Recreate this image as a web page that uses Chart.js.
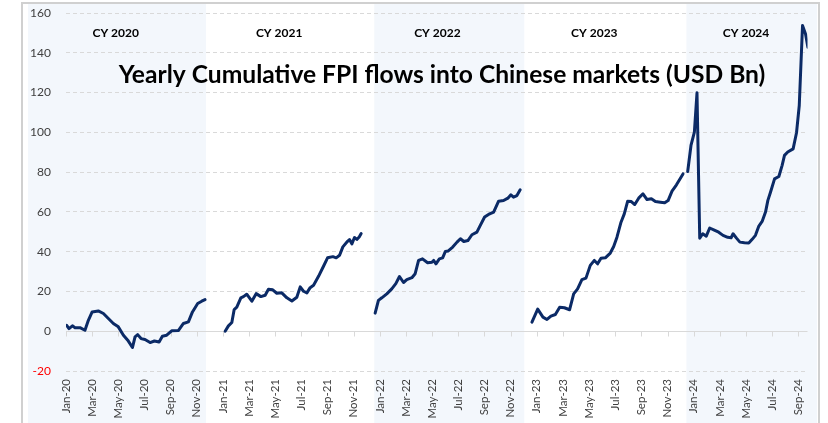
<!DOCTYPE html>
<html>
<head>
<meta charset="utf-8">
<script src="https://cdn.jsdelivr.net/npm/chart.js@4.4.1/dist/chart.umd.min.js"></script>
<style>
  html,body{margin:0;padding:0;background:#fff;overflow:hidden}
  #wrap{position:relative;width:828px;height:423px}
</style>
</head>
<body>
<div id="wrap"><canvas id="fpi"></canvas></div>
<script>
/* x values are months since Jan-20 (0 = Jan-20, 12 = Jan-21, ...) */
const monthNames = ['Jan','Feb','Mar','Apr','May','Jun','Jul','Aug','Sep','Oct','Nov','Dec'];

const cy2020X = [0.05,0.23,0.49,0.69,1.07,1.45,1.71,2.0,2.47,2.86,3.24,3.62,4.0,4.39,4.72,5.08,5.28,5.48,5.74,6.04,6.43,6.76,7.12,7.37,7.7,8.08,8.59,8.98,9.36,9.67,10.07,10.38,10.63];
const cy2020Y = [3.0,1.3,2.7,1.8,1.8,0.5,5.5,9.7,10.2,8.9,6.4,3.9,2.2,-2.0,-4.5,-8.2,-2.8,-1.7,-3.7,-4.2,-5.7,-4.9,-5.4,-2.5,-2.0,0.2,0.3,3.9,4.7,9.7,13.9,15.1,15.9];

const cy2021X = [12.17,12.42,12.68,12.86,13.06,13.37,13.57,13.82,14.21,14.54,14.9,15.23,15.48,15.81,16.12,16.5,16.89,17.27,17.65,17.91,18.16,18.42,18.67,18.93,19.31,19.7,20.0,20.41,20.66,20.92,21.17,21.53,21.68,21.86,22.06,22.24,22.42,22.57];
const cy2021Y = [0,2.7,4.4,10.9,12.1,16.8,17.4,18.6,15.1,18.9,17.4,18.1,21.1,20.8,19.1,19.3,16.8,15.2,17.1,22.3,20.1,19.3,21.9,23.1,27.6,32.8,36.9,37.5,36.9,38.2,42.4,45.2,46.1,43.9,47.1,46.2,47.4,49.1];

const cy2022X = [23.64,23.89,24.15,24.53,24.91,25.22,25.5,25.81,26.06,26.45,26.7,26.96,27.26,27.65,27.98,28.11,28.29,28.55,28.8,29.01,29.21,29.57,29.9,30.16,30.42,30.73,31.04,31.42,31.68,32.01,32.31,32.7,33.08,33.46,33.79,34.02,34.22,34.48,34.73];
const cy2022Y = [9.1,15.5,16.8,18.8,21.3,23.9,27.5,24.5,25.9,26.9,28.9,35.6,36.4,34.4,34.7,35.6,33.9,36.4,36.9,40.1,40.3,42.3,44.8,46.5,45.1,45.6,48.5,49.8,53.2,57.4,58.7,59.9,65.4,65.7,66.9,68.6,67.4,68.2,71.1];

const cy2023X = [35.63,36.07,36.47,36.78,37.08,37.42,37.75,38.11,38.51,38.82,39.12,39.45,39.76,40.09,40.4,40.65,40.91,41.24,41.62,41.88,42.13,42.44,42.69,42.95,43.23,43.49,43.79,44.12,44.43,44.76,45.07,45.45,45.78,46.04,46.34,46.68,47.18];
const cy2023Y = [4.6,11.1,7.1,5.9,7.6,8.4,12.1,11.8,10.8,18.8,21.3,25.9,26.7,33.1,35.6,33.9,36.7,36.9,39.3,42.6,47.3,54.8,59.0,65.4,65.2,63.7,66.9,69.1,66.2,66.6,65.2,64.9,64.6,65.7,70.4,73.6,79.1];

const cy2024X = [47.54,47.79,48.05,48.25,48.46,48.69,48.96,49.22,49.53,49.91,50.24,50.6,50.86,51.01,51.27,51.53,51.88,52.21,52.47,52.72,52.98,53.23,53.49,53.67,53.87,54.18,54.51,54.76,54.94,55.19,55.6,55.86,56.07,56.32,56.55,56.73];
const cy2024Y = [80.3,93.4,100.1,119.9,46.8,49.0,47.8,51.9,51.0,49.8,48.2,47.2,47.0,49.0,46.8,44.8,44.5,44.3,46.2,48.2,52.9,55.2,59.9,65.8,69.9,76.6,77.8,83.4,88.4,90.1,91.7,99.8,113.5,153.7,149.5,142.8];

/* calendar-year captions and the shaded years (null = runs to the frame edge) */
const yearLabels = ['CY 2020','CY 2021','CY 2022','CY 2023','CY 2024'];
const yearLabelX = [3.8,16.3,28.4,40.4,52.0];
const shadedYears = [[null,10.71],[23.57,35.04],[47.44,null]];

const TITLE = 'Yearly Cumulative FPI flows into Chinese markets (USD Bn)';
const INK = '#404040', LINE = '#0b2a66', BAND = '#f3f7fc', GRID = '#d9d9d9';
const FRAME = {left:28, top:4, right:817};
const FONT = 'Lato, "Open Sans", sans-serif';

const series = [[cy2020X,cy2020Y],[cy2021X,cy2021Y],[cy2022X,cy2022Y],[cy2023X,cy2023Y],[cy2024X,cy2024Y]];
const datasets = series.map(([xs,ys])=>({
  data: xs.map((x,i)=>({x, y: ys[i]})),
  borderColor: LINE, borderWidth: 3, pointRadius: 0, tension: 0,
  borderJoinStyle: 'round', borderCapStyle: 'round'
}));

// white page, year shading and outer frame, under everything
const backdrop = {id:'backdrop', beforeDraw(ch){
  const {ctx, scales:{x}} = ch;
  ctx.save();
  ctx.fillStyle = '#fff'; ctx.fillRect(0,0,ch.width,ch.height);
  ctx.fillStyle = BAND;
  shadedYears.forEach(([a,b])=>{
    const l = a===null ? FRAME.left : x.getPixelForValue(a);
    const r = b===null ? FRAME.right : x.getPixelForValue(b);
    ctx.fillRect(l, FRAME.top, r-l, ch.height-FRAME.top);
  });
  ctx.strokeStyle = '#d0d0d0'; ctx.lineWidth = 2;
  ctx.beginPath();
  ctx.moveTo(22, ch.height); ctx.lineTo(22, 3); ctx.lineTo(819, 3); ctx.lineTo(819, ch.height);
  ctx.stroke();
  ctx.restore();
}};

// solid zero line with small tick marks hanging from it
const zeroAxis = {id:'zeroAxis', beforeDatasetsDraw(ch){
  const {ctx, scales:{x,y}} = ch;
  const y0 = Math.round(y.getPixelForValue(0)) + .5;
  ctx.save();
  ctx.strokeStyle = GRID; ctx.lineWidth = 1;
  ctx.beginPath();
  ctx.moveTo(x.left, y0); ctx.lineTo(x.right, y0);
  x.ticks.forEach(t=>{
    const px = Math.round(x.getPixelForValue(t.value)) + .5;
    ctx.moveTo(px, y0); ctx.lineTo(px, y0+5);
  });
  ctx.stroke();
  ctx.restore();
}};

// chart title and CY captions sit inside the plot
const captions = {id:'captions', afterDatasetsDraw(ch){
  const {ctx, scales:{x,y}} = ch;
  ctx.save();
  ctx.fillStyle = '#000';
  ctx.textAlign = 'center'; ctx.textBaseline = 'alphabetic';
  ctx.font = 'bold 12px ' + FONT;
  yearLabels.forEach((t,i)=>ctx.fillText(t, x.getPixelForValue(yearLabelX[i]), y.getPixelForValue(148)));
  ctx.font = 'bold 24.6px ' + FONT;
  ctx.fillText(TITLE, 442, 83);
  ctx.restore();
}};

new Chart(document.getElementById('fpi'), {
  type: 'line',
  data: {datasets},
  options: {
    responsive: true, maintainAspectRatio: false, animation: false,
    layout: {padding: {top: 13, right: 20.5, left: 0, bottom: 0}},
    plugins: {legend: {display: false}, tooltip: {enabled: false}},
    scales: {
      x: {
        type: 'linear', min: 0, max: 56.7,
        afterFit: s => { s.height = 52; s.paddingLeft = 0; s.paddingRight = 0; },
        grid: {display: false, drawTicks: false},
        border: {display: false},
        ticks: {
          stepSize: 2, includeBounds: false, autoSkip: false,
          minRotation: 90, maxRotation: 90, padding: 8,
          color: INK, font: {family: FONT, size: 11.5},
          callback: v => monthNames[v % 12] + '-' + (20 + Math.floor(v / 12))
        }
      },
      y: {
        min: -20, max: 160,
        // the wide label gap would otherwise push the plot top down
        afterFit: s => { s.width = 66; s.paddingTop = 0; s.paddingBottom = 0; },
        grid: {color: c => c.tick.value === 0 ? 'rgba(0,0,0,0)' : GRID, drawTicks: false},
        border: {display: false, dash: [4, 3]},
        ticks: {
          stepSize: 20, padding: 15,
          color: c => c.tick.value < 0 ? '#ff0000' : INK,
          font: {family: FONT, size: 12}
        }
      }
    }
  },
  plugins: [backdrop, zeroAxis, captions]
});
</script>
</body>
</html>
